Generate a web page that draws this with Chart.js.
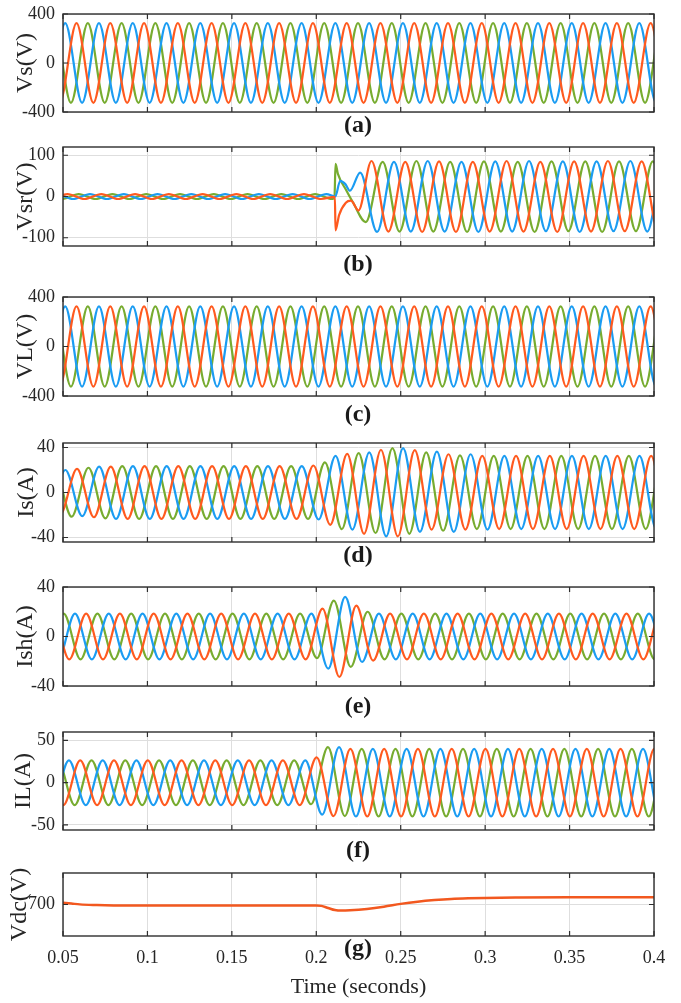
<!DOCTYPE html>
<html>
<head>
<meta charset="utf-8">
<script src="https://cdn.jsdelivr.net/npm/chart.js@4.4.1/dist/chart.umd.min.js"></script>
<style>
  html, body { margin: 0; padding: 0; background: #fff; }
  #fig { position: relative; width: 681px; height: 1003px; overflow: hidden; background: #fff; }
  #fig canvas { position: absolute; left: 0; }
  .tag { position: absolute; font: bold 24px "Liberation Serif", "Times New Roman", serif; line-height: 1;
         color: #1a1a1a; transform: translate(-50%, -50%); white-space: nowrap; }
</style>
</head>
<body>
<div id="fig"></div>
<script>
// ---- time axis ----
const xTicks = [0.05, 0.1, 0.15, 0.2, 0.25, 0.3, 0.35, 0.4];
const HALF_CYCLE = 0.01;           // 50 Hz: one peak every 10 ms

// ---- y tick labels per panel ----
const vsTicks  = [-400, 0, 400];
const vsrTicks = [-100, 0, 100];
const vlTicks  = [-400, 0, 400];
const isTicks  = [-40, 0, 40];
const ishTicks = [-40, 0, 40];
const ilTicks  = [-50, 0, 50];
const vdcTicks = [700];

// ---- first peak time and its sign for each phase ----
const vsPhase  = { blue: [0.0313, 1], orange: [0.0380, 1], green: [0.0347, -1] };
const vsrPhase = { blue: [0.0360, -1], orange: [0.0327, 1], green: [0.0393, 1] };
const vlPhase  = { blue: [0.0313, 1], orange: [0.0380, 1], green: [0.0347, -1] };
const isPhase  = { blue: [0.0314, 1], orange: [0.0383, 1], green: [0.0351, -1] };
const ishPhase = { blue: [0.0371, 1], orange: [0.0337, -1], green: [0.0304, 1] };
const ilPhase  = { blue: [0.0335, 1], orange: [0.0302, -1], green: [0.0369, -1] };

// ---- peak magnitudes, one per half cycle ----
const vsAmp = [325,325,325,325,325,325,325,325,325,325, 325,325,325,325,325,325,325,325,325,325,
               325,325,325,325,325,325,325,325,325,325, 325,325,325,325,325,325,325,325,325];
const vlAmp = [325,325,325,325,325,325,325,325,325,325, 325,325,325,325,325,325,325,325,325,325,
               325,325,325,325,325,325,325,325,325,325, 325,325,325,325,325,325,325,325,325];

const vsrBlueAmp   = [6,6,6,6,6,6,6,6,6,6,6,6,6,6,6,6,6,6, null, 58,
                      86,84,85,86,85,84,86,85,85,86, 84,85,86,85,84,86,85,85,86];
const vsrOrangeAmp = [6,6,6,6,6,6,6,6,6,6,6,6,6,6,6,6,6,6, null, null,
                      86,85,84,86,85,86,84,85,86,85, 84,86,85,85,86,84,85,86,85];
const vsrGreenAmp  = [6,6,6,6,6,6,6,6,6,6,6,6,6,6,6,6,6,6, null, 62,
                      84,85,86,85,84,86,85,85,84,86, 85,84,85,86,85,84,85,86,85];
// compensator switching transient around 0.211 s
const vsrBlueJump   = [[0.2112, 0], [0.2142, 38], [0.2172, 30], [0.2199, 14]];
const vsrOrangeJump = [[0.2110, -1], [0.2114, -82], [0.2135, -45], [0.2175, -15], [0.2205, -10], [0.2250, -34]];
const vsrGreenJump  = [[0.2108, 1], [0.2114, 79], [0.2128, 55], [0.2179, 14], [0.2217, -14]];

const isBlueAmp   = [18,19,20,21,23, 23.5,23.5,23.5,23.5,23.5,23.5,23.5,23.5,23.5,23.5,23.5,23.5,
                     24,32.6,33,35.6,39,39.5,35,36.4,35,34,33,
                     32.5,32.5,32.5,32.5,32.5,32.5,32.5,32.5,32.5,32.5,32.5];
const isOrangeAmp = [18,19.5,21,22,23, 23.5,23.5,23.5,23.5,23.5,23.5,23.5,23.5,23.5,23.5,23.5,
                     24,28.7,34.4,36.7,38,39,37.6,33,34,33,
                     32.5,32.5,32.5,32.5,32.5,32.5,32.5,32.5,32.5,32.5,32.5,32.5,32.5];
const isGreenAmp  = [19,20.5,21.5,22,23, 23.5,23.5,23.5,23.5,23.5,23.5,23.5,23.5,23.5,23.5,23.5,23.5,
                     26.7,32.5,35,36,39.5,36.7,35.6,34,33,
                     32.5,32.5,32.5,32.5,32.5,32.5,32.5,32.5,32.5,32.5,32.5,32.5,32.5];

const ishBlueAmp   = [18.5,18.5,18.5,18.5,18.5,18.5,18.5,18.5,18.5,18.5,18.5,18.5,18.5,18.5,18.5,18.5,18.5,
                      26,32,20.6,18.5,
                      18.5,18.5,18.5,18.5,18.5,18.5,18.5,18.5,18.5,18.5,18.5,18.5,18.5,18.5,18.5,18.5,18.5,18.5];
const ishOrangeAmp = [18.5,18.5,18.5,18.5,18.5,18.5,18.5,18.5,18.5,18.5,18.5,18.5,18.5,18.5,18.5,18.5,18.5,
                      22.5,32.7,25,19.5,
                      18.5,18.5,18.5,18.5,18.5,18.5,18.5,18.5,18.5,18.5,18.5,18.5,18.5,18.5,18.5,18.5,18.5,18.5];
const ishGreenAmp  = [18.5,18.5,18.5,18.5,18.5,18.5,18.5,18.5,18.5,18.5,18.5,18.5,18.5,18.5,18.5,18.5,18.5,
                      17.5,29,24.6,20,
                      18.5,18.5,18.5,18.5,18.5,18.5,18.5,18.5,18.5,18.5,18.5,18.5,18.5,18.5,18.5,18.5,18.5,18.5];

const ilBlueAmp   = [26.5,26.5,26.5,26.5,26.5,26.5,26.5,26.5,26.5,26.5,26.5,26.5,26.5,26.5,26.5,26.5,26.5,
                     37.8,42,
                     40,40,40,40,40,40,40,40,40,40,40,40,40,40,40,40,40,40,40,40];
const ilOrangeAmp = [26.5,26.5,26.5,26.5,26.5,26.5,26.5,26.5,26.5,26.5,26.5,26.5,26.5,26.5,26.5,26.5,26.5,
                     30,39.5,
                     40,40,40,40,40,40,40,40,40,40,40,40,40,40,40,40,40,40,40,40];
const ilGreenAmp  = [26.5,26.5,26.5,26.5,26.5,26.5,26.5,26.5,26.5,26.5,26.5,26.5,26.5,26.5,26.5,26.5,
                     25.5,42,39.5,
                     40,40,40,40,40,40,40,40,40,40,40,40,40,40,40,40,40,40,40,40];

// ---- DC-link voltage ----
const vdcTime = [0.05, 0.055, 0.06, 0.07, 0.08, 0.1, 0.15, 0.2, 0.203, 0.207, 0.211, 0.215, 0.22,
                 0.23, 0.24, 0.25, 0.26, 0.27, 0.28, 0.29, 0.3, 0.32, 0.35, 0.38, 0.4];
const vdcVolt = [702.7, 701.5, 700.2, 699.2, 698.6, 698.3, 698.3, 698.3, 697.8, 694.5, 691.2, 690.3, 690.8,
                 693, 696.5, 701, 704.5, 707, 708.8, 709.8, 710.4, 711, 711.5, 711.6, 711.6];

// ---- styling ----
const BLUE = '#1B9CF2', ORANGE = '#FF5A1F', GREEN = '#77AC30';
const TEXT = '#262626', FRAME = '#2e2e2e', GRID = '#dedede';
const SERIF = '"Liberation Serif", "Times New Roman", serif';
const BOX_LEFT = 63, BOX_RIGHT = 654, W = 681, H = 1003, TICK_LEN = 5;

// peaks of one phase: alternating sign every half cycle, plus optional extra points
function phaseData(phase, mags, extra) {
  const [t0, sign0] = phase;
  const pts = [];
  mags.forEach((m, i) => {
    if (m === null) return;
    const s = (i % 2 === 0 ? 1 : -1) * sign0;
    pts.push({ x: +(t0 + i * HALF_CYCLE).toFixed(4), y: s * m });
  });
  (extra || []).forEach(([x, y]) => pts.push({ x, y }));
  pts.sort((a, b) => a.x - b.x);
  return pts;
}

function threePhase(ph, blue, orange, green, jumps) {
  jumps = jumps || {};
  return [
    { color: ORANGE, data: phaseData(ph.orange, orange, jumps.orange) },
    { color: BLUE,   data: phaseData(ph.blue, blue, jumps.blue) },
    { color: GREEN,  data: phaseData(ph.green, green, jumps.green) }
  ];
}

const panels = [
  { top: 14,  bottom: 112, min: -400, max: 400, ticks: vsTicks,  title: 'Vs(V)',  tPad: 11,   tag: '(a)', tagY: 124,
    series: threePhase(vsPhase, vsAmp, vsAmp, vsAmp) },
  { top: 147, bottom: 246, min: -120, max: 120, ticks: vsrTicks, title: 'Vsr(V)', tPad: 11.5, tag: '(b)', tagY: 263,
    series: threePhase(vsrPhase, vsrBlueAmp, vsrOrangeAmp, vsrGreenAmp,
                       { blue: vsrBlueJump, orange: vsrOrangeJump, green: vsrGreenJump }) },
  { top: 297, bottom: 396, min: -400, max: 400, ticks: vlTicks,  title: 'VL(V)',  tPad: 11.5, tag: '(c)', tagY: 413,
    series: threePhase(vlPhase, vlAmp, vlAmp, vlAmp) },
  { top: 443, bottom: 542, min: -44, max: 44,   ticks: isTicks,  title: 'Is(A)',  tPad: 12.5, tag: '(d)', tagY: 554,
    series: threePhase(isPhase, isBlueAmp, isOrangeAmp, isGreenAmp) },
  { top: 587, bottom: 686, min: -40, max: 40,   ticks: ishTicks, title: 'Ish(A)', tPad: 11.5, tag: '(e)', tagY: 705,
    series: threePhase(ishPhase, ishBlueAmp, ishOrangeAmp, ishGreenAmp) },
  { top: 732, bottom: 830, min: -56, max: 60,   ticks: ilTicks,  title: 'IL(A)',  tPad: 9.5,  tag: '(f)', tagY: 849,
    series: threePhase(ilPhase, ilBlueAmp, ilOrangeAmp, ilGreenAmp) },
  { top: 873, bottom: 936, min: 650, max: 750,  ticks: vdcTicks, title: 'Vdc(V)', tPad: 5.5,  tag: '(g)', tagY: 947,
    series: [{ color: '#F2581F', width: 2.5, data: vdcTime.map((t, i) => ({ x: t, y: vdcVolt[i] })) }] }
];

// box outline with inward tick marks on all four sides
const framePlugin = {
  id: 'frame',
  afterDatasetsDraw(chart) {
    const { ctx, chartArea: a, scales: { x, y } } = chart;
    ctx.save();
    ctx.strokeStyle = FRAME;
    ctx.lineWidth = 1.4;
    ctx.strokeRect(a.left, a.top, a.right - a.left, a.bottom - a.top);
    ctx.beginPath();
    x.ticks.forEach(t => {
      const px = x.getPixelForValue(t.value);
      ctx.moveTo(px, a.top); ctx.lineTo(px, a.top + TICK_LEN);
      ctx.moveTo(px, a.bottom); ctx.lineTo(px, a.bottom - TICK_LEN);
    });
    y.ticks.forEach(t => {
      const py = y.getPixelForValue(t.value);
      ctx.moveTo(a.left, py); ctx.lineTo(a.left + TICK_LEN, py);
      ctx.moveTo(a.right, py); ctx.lineTo(a.right - TICK_LEN, py);
    });
    ctx.lineWidth = 1.2;
    ctx.stroke();
    ctx.restore();
  }
};

const fig = document.getElementById('fig');

panels.forEach((p, idx) => {
  const last = idx === panels.length - 1;
  const pad = 14;
  const top = p.top - pad;
  const h = last ? H - top : (p.bottom - p.top) + 2 * pad;
  const cv = document.createElement('canvas');
  cv.width = W; cv.height = h;
  cv.style.top = top + 'px'; cv.style.width = W + 'px'; cv.style.height = h + 'px';
  fig.appendChild(cv);

  new Chart(cv, {
    type: 'line',
    data: {
      datasets: p.series.map(s => ({
        data: s.data, borderColor: s.color, borderWidth: s.width || 2.2,
        pointRadius: 0, fill: false, cubicInterpolationMode: 'monotone', clip: 0
      }))
    },
    options: {
      responsive: false, animation: false, devicePixelRatio: 1, events: [],
      layout: { padding: { left: 0, right: W - BOX_RIGHT, top: pad, bottom: last ? 0 : pad } },
      plugins: { legend: { display: false }, tooltip: { enabled: false } },
      scales: {
        x: {
          type: 'linear', min: 0.05, max: 0.4,
          afterBuildTicks: s => { s.ticks = xTicks.map(v => ({ value: v })); },
          afterFit: s => {
            s.height = last ? H - p.bottom : 0;
            s.paddingLeft = 0; s.paddingRight = 0;
          },
          grid: { color: GRID, lineWidth: 1, drawTicks: false },
          border: { display: false },
          ticks: {
            display: last, padding: 11, autoSkip: false, maxRotation: 0, color: TEXT,
            font: { family: SERIF, size: 18 },
            callback: v => String(+(+v).toFixed(2))
          },
          title: {
            display: last, text: 'Time (seconds)', color: TEXT,
            font: { family: SERIF, size: 22, lineHeight: 1.2 }, padding: { top: 0, bottom: 3 }
          }
        },
        y: {
          min: p.min, max: p.max,
          afterBuildTicks: s => { s.ticks = p.ticks.map(v => ({ value: v })); },
          afterFit: s => {
            s.width = BOX_LEFT;
            s.paddingTop = 0; s.paddingBottom = 0;
          },
          grid: { color: GRID, lineWidth: 1, drawTicks: false },
          border: { display: false },
          ticks: { padding: 8, autoSkip: false, color: TEXT, font: { family: SERIF, size: 18 } },
          title: {
            display: true, text: p.title, color: TEXT,
            font: { family: SERIF, size: 24, lineHeight: 1.2 }, padding: { top: p.tPad, bottom: 0 }
          }
        }
      }
    },
    plugins: [framePlugin]
  });

  const tag = document.createElement('div');
  tag.className = 'tag';
  tag.textContent = p.tag;
  tag.style.left = '358px';
  tag.style.top = p.tagY + 'px';
  fig.appendChild(tag);
});
</script>
</body>
</html>
